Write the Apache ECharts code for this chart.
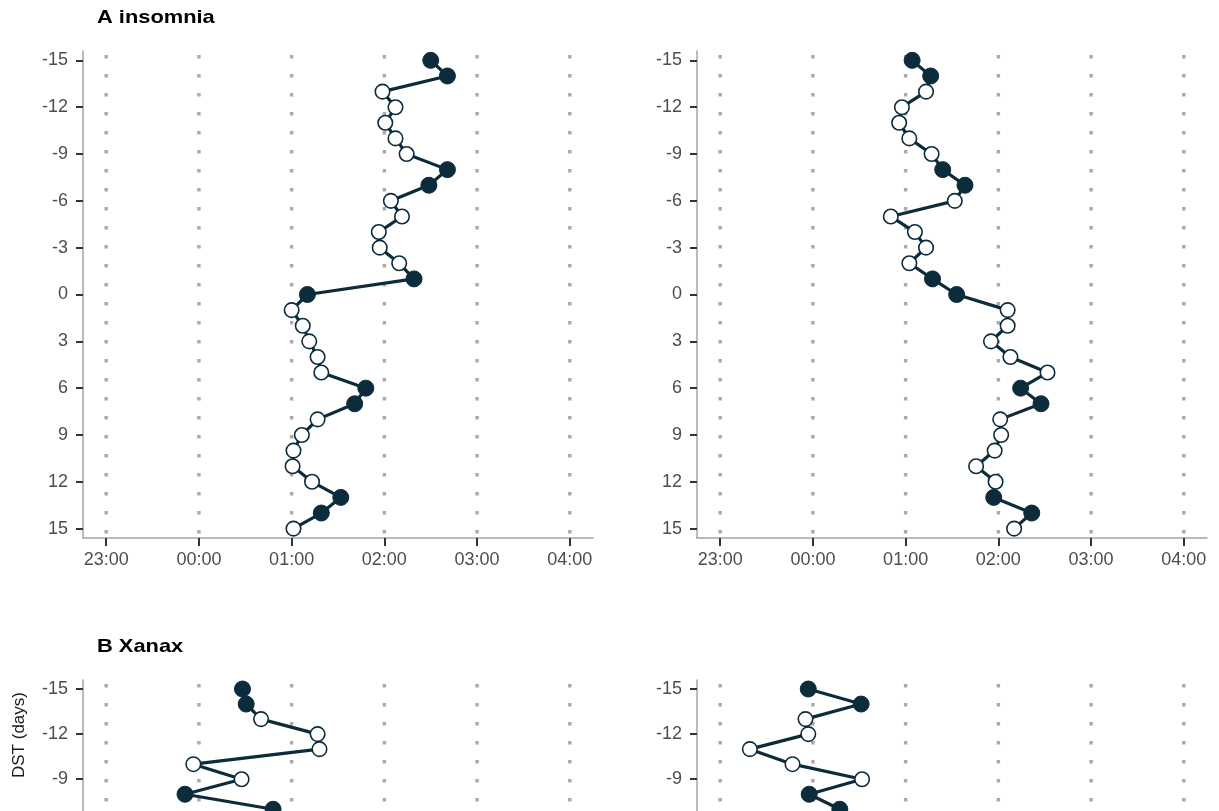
<!DOCTYPE html>
<html>
<head>
<meta charset="utf-8">
<script src="https://cdn.jsdelivr.net/npm/echarts@6/dist/echarts.min.js"></script>
<style>
html,body{margin:0;padding:0;background:#fff;overflow:hidden;width:1219px;height:811px;}
#chart{width:1219px;height:1180px;}
</style>
</head>
<body>
<div id="chart"></div>
<script>
// Days relative to DST change
const days = [-15,-14,-13,-12,-11,-10,-9,-8,-7,-6,-5,-4,-3,-2,-1,0,1,2,3,4,5,6,7,8,9,10,11,12,13,14,15];
// 1 = weekend (filled marker), 0 = weekday (open marker)
const weekend = [1,1,0,0,0,0,0,1,1,0,0,0,0,0,1,1,0,0,0,0,0,1,1,0,0,0,0,0,1,1,0];
// Hour of day (relative to midnight, 23:00 = -1)
const insomniaLeft  = [2.50,2.68,1.98,2.12,2.01,2.12,2.24,2.68,2.48,2.07,2.19,1.94,1.95,2.16,2.32,1.17,1.00,1.12,1.19,1.28,1.32,1.80,1.68,1.28,1.11,1.02,1.01,1.22,1.53,1.32,1.02];
const insomniaRight = [1.07,1.27,1.22,0.96,0.93,1.04,1.28,1.40,1.64,1.53,0.84,1.10,1.22,1.04,1.29,1.55,2.10,2.10,1.92,2.13,2.53,2.24,2.46,2.02,2.03,1.96,1.76,1.97,1.95,2.36,2.17];
// Xanax panels: only days -15 .. -7 are visible in the picture
const xanaxLeft  = [0.47,0.51,0.67,1.28,1.30,-0.06,0.46,-0.15,0.80];
const xanaxRight = [-0.05,0.52,-0.08,-0.05,-0.68,-0.22,0.53,-0.04,0.29];
// Tick labels
const hourTicks = [-1,0,1,2,3,4];
const dayTicks = [-15,-12,-9,-6,-3,0,3,6,9,12,15];
const titles = ['A insomnia','B Xanax'];
const yTitle = 'DST (days)';

const DARK = '#0c2b3b';
const FONT = '"Liberation Sans", Arial, sans-serif';
const X_MIN = -1.25, X_MAX = 4.25, Y_MIN = -15.6, Y_MAX = 15.6;

function hourLabel(h){
  const v = ((Math.round(h) % 24) + 24) % 24;
  return (v < 10 ? '0' : '') + v + ':00';
}

const grids = [
  {left: 83,  top: 51,  width: 510, height: 487},
  {left: 697, top: 51,  width: 510, height: 487},
  {left: 83,  top: 680, width: 510, height: 487},
  {left: 697, top: 680, width: 510, height: 487}
];
const panelData = [insomniaLeft, insomniaRight, xanaxLeft, xanaxRight];

const xAxes = [], yAxes = [], series = [];
grids.forEach((g, i) => {
  xAxes.push({
    type: 'value', gridIndex: i, min: X_MIN, max: X_MAX,
    axisLine: {show: true, onZero: false, lineStyle: {color: '#a3a3a3', width: 1.5}},
    axisTick: {show: true, customValues: hourTicks, length: 8, lineStyle: {color: '#333', width: 2}},
    axisLabel: {show: true, customValues: hourTicks, formatter: hourLabel, color: '#4d4d4d', fontSize: 18, fontFamily: FONT, margin: 13},
    splitLine: {show: false}
  });
  yAxes.push({
    type: 'value', gridIndex: i, min: Y_MIN, max: Y_MAX, inverse: true,
    axisLine: {show: true, onZero: false, lineStyle: {color: '#a3a3a3', width: 1.5}},
    axisTick: {show: true, customValues: dayTicks, length: 7, lineStyle: {color: '#333', width: 2}},
    axisLabel: {show: true, customValues: dayTicks, color: '#4d4d4d', fontSize: 18, fontFamily: FONT, margin: 15},
    splitLine: {show: false}
  });
  // dotted vertical gridlines at each hour tick
  hourTicks.forEach(h => {
    series.push({
      type: 'line', xAxisIndex: i, yAxisIndex: i, silent: true, z: 1,
      symbol: 'none', animation: false,
      data: [[h, Y_MIN], [h, Y_MAX]],
      lineStyle: {color: '#ababab', width: 3.5, type: [3.5, 15.5], dashOffset: 15, cap: 'butt'}
    });
  });
  const vals = panelData[i];
  series.push({
    type: 'line', xAxisIndex: i, yAxisIndex: i, z: 5, animation: false,
    lineStyle: {color: DARK, width: 3.2},
    symbol: 'circle',
    data: vals.map((h, k) => {
      const filled = weekend[k] === 1;
      return {
        value: [h, days[k]],
        symbolSize: filled ? 16 : 14.5,
        itemStyle: filled
          ? {color: DARK, borderColor: DARK, borderWidth: 1}
          : {color: '#ffffff', borderColor: DARK, borderWidth: 1.6}
      };
    })
  });
});

const chart = echarts.init(document.getElementById('chart'), null, {renderer: 'canvas'});
chart.setOption({
  backgroundColor: '#ffffff',
  animation: false,
  grid: grids,
  xAxis: xAxes,
  yAxis: yAxes,
  series: series,
  graphic: [
    {type: 'text', x: 97, y: 8, scaleX: 1.15, style: {text: titles[0], font: 'bold 19px ' + FONT, fill: '#000'}},
    {type: 'text', x: 97, y: 637, scaleX: 1.15, style: {text: titles[1], font: 'bold 19px ' + FONT, fill: '#000'}},
    {type: 'text', x: 11, y: 778, rotation: Math.PI / 2,
     style: {text: yTitle, font: '17px ' + FONT, fill: '#1a1a1a', align: 'left', verticalAlign: 'top'}}
  ]
});
</script>
</body>
</html>
